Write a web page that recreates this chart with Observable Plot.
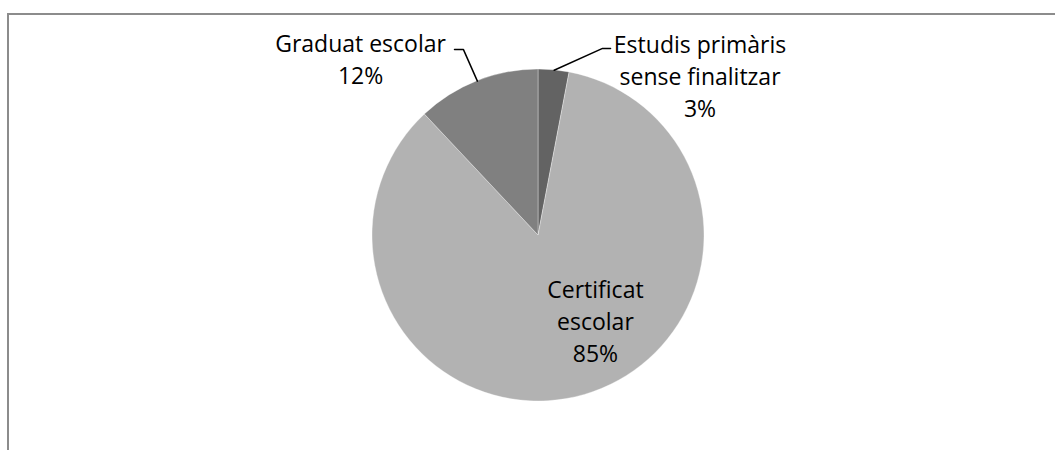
<!DOCTYPE html>
<html><head><meta charset="utf-8">
<script src="https://cdn.jsdelivr.net/npm/d3@7"></script>
<script src="https://cdn.jsdelivr.net/npm/@observablehq/plot@0.6"></script>
<style>
html,body{margin:0;padding:0;background:#fff;}
#wrap{position:relative;width:1055px;height:450px;overflow:hidden;background:#fff;}
#frame{position:absolute;left:7px;top:13px;width:1200px;height:600px;border-top:2px solid #8c8c8c;border-left:2px solid #8c8c8c;box-sizing:border-box;}
#chart{position:absolute;left:0;top:0;}
</style></head><body>
<div id="wrap"><div id="frame"></div><div id="chart"></div></div>
<script>
// Data
const categories = ["Estudis primàris sense finalitzar", "Certificat escolar", "Graduat escolar"];
const values = [3, 85, 12];
const labelTexts = ["Estudis primàris\nsense finalitzar", "Certificat\nescolar", "Graduat escolar"];

// Styles / layout (radius units)
const sliceColors = ["#636363", "#b2b2b2", "#808080"];
const labelLayout = [
  {x: 0.973, y: 0.969, leader: [[0.386, 1.127], [0.434, 1.127]]},
  {x: 0.343, y: -0.510, leader: null},
  {x: -1.072, y: 1.069, leader: [[-0.452, 1.120], [-0.506, 1.120]]}
];

const total = d3.sum(values);
const arcs = d3.pie().sort(null).value(d => d)(values);
const slices = categories.map((c, i) => ({
  category: c,
  value: values[i],
  start: arcs[i].startAngle,
  end: arcs[i].endAngle,
  mid: (arcs[i].startAngle + arcs[i].endAngle) / 2,
  color: sliceColors[i],
  label: labelTexts[i] + "\n" + Math.round(values[i] / total * 100) + "%",
  lx: labelLayout[i].x,
  ly: labelLayout[i].y
}));

const leaders = [];
slices.forEach((s, i) => {
  const L = labelLayout[i].leader;
  if (!L) return;
  leaders.push({category: s.category, x: Math.sin(s.mid), y: Math.cos(s.mid)});
  L.forEach(p => leaders.push({category: s.category, x: p[0], y: p[1]}));
});

function pieMark(index, scales, values, dimensions, context) {
  const cx = scales.x(0), cy = scales.y(0);
  const r = scales.x(1) - scales.x(0);
  const g = d3.create("svg:g").attr("transform", `translate(${cx},${cy})`);
  const arc = d3.arc().innerRadius(0).outerRadius(r);
  g.selectAll("path").data(slices).join("path")
    .attr("d", d => arc({startAngle: d.start, endAngle: d.end}))
    .attr("fill", d => d.color)
    .attr("stroke", "#ffffff")
    .attr("stroke-opacity", 0.45)
    .attr("stroke-width", 0.75);
  return g.node();
}

const chart = Plot.plot({
  width: 1055,
  height: 450,
  margin: 0,
  x: {domain: [-1, 1], range: [372, 704], axis: null},
  y: {domain: [-1, 1], range: [401, 69], axis: null},
  style: {fontFamily: "'Open Sans', sans-serif", background: "transparent", overflow: "visible"},
  marks: [
    pieMark,
    Plot.line(leaders, {x: "x", y: "y", z: "category", stroke: "#000", strokeWidth: 1.5}),
    Plot.text(slices, {x: "lx", y: "ly", text: "label", textAnchor: "middle", lineAnchor: "middle", lineHeight: 1.39, fontSize: 23, fill: "#000"})
  ]
});
document.getElementById("chart").appendChild(chart);
</script>
</body></html>
